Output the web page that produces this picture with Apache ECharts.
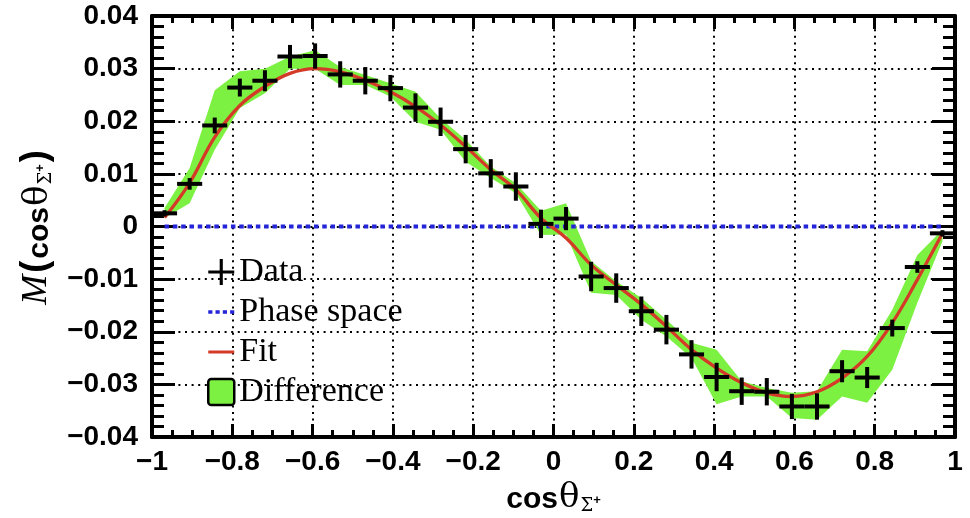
<!DOCTYPE html>
<html>
<head>
<meta charset="utf-8">
<script src="https://cdn.jsdelivr.net/npm/echarts@6/dist/echarts.min.js"></script>
<style>
  html, body { margin: 0; padding: 0; background: #fff; }
  #chart { width: 970px; height: 518px; }
</style>
</head>
<body>
<div id="chart"></div>
<script>
// Bin centres of cos(theta) (32 bins of width 0.0625)
const binCenters = [
  -0.96875, -0.90625, -0.84375, -0.78125, -0.71875, -0.65625, -0.59375, -0.53125,
  -0.46875, -0.40625, -0.34375, -0.28125, -0.21875, -0.15625, -0.09375, -0.03125,
   0.03125,  0.09375,  0.15625,  0.21875,  0.28125,  0.34375,  0.40625,  0.46875,
   0.53125,  0.59375,  0.65625,  0.71875,  0.78125,  0.84375,  0.90625,  0.96875
];
const binHalfWidth = 0.03125;

// Measured moments
const dataY = [
  0.0025, 0.0081, 0.0192, 0.0264, 0.0277, 0.0323, 0.0324, 0.0289,
  0.0277, 0.0263, 0.0226, 0.0199, 0.0147, 0.0101, 0.0076, 0.0005,
  0.0015, -0.0095, -0.0117, -0.0161, -0.0196, -0.0243, -0.0286, -0.0313,
  -0.0314, -0.0342, -0.0342, -0.0275, -0.0287, -0.0193, -0.0077, -0.0013
];
const dataErr = [
  0.0006, 0.0011, 0.0015, 0.0017, 0.0020, 0.0022, 0.0024, 0.0025,
  0.0026, 0.0025, 0.0027, 0.0027, 0.0027, 0.0027, 0.0027, 0.0027,
  0.0022, 0.0028, 0.0028, 0.0028, 0.0028, 0.0027, 0.0027, 0.0026,
  0.0026, 0.0024, 0.0025, 0.0021, 0.0020, 0.0016, 0.0011, 0.0006
];

// Fit result at the bin centres
const fitY = [
  0.0017, 0.0083, 0.0170, 0.0230, 0.0266, 0.0291, 0.0300, 0.0294,
  0.0278, 0.0256, 0.0228, 0.0193, 0.0152, 0.0108, 0.0070, 0.0016,
  -0.0022, -0.0073, -0.0111, -0.0148, -0.0190, -0.0234, -0.0269, -0.0297,
  -0.0316, -0.0323, -0.0314, -0.0288, -0.0247, -0.0183, -0.0101, -0.0013
];

// Difference band (upper / lower edge)
const bandHi = [
  0.0035, 0.0111, 0.0259, 0.0295, 0.0300, 0.0323, 0.0335, 0.0303,
  0.0288, 0.0272, 0.0256, 0.0205, 0.0165, 0.0114, 0.0082, 0.0030,
  0.0044, -0.0066, -0.0104, -0.0136, -0.0177, -0.0221, -0.0234, -0.0294,
  -0.0307, -0.0316, -0.0313, -0.0234, -0.0237, -0.0158, -0.0054, -0.0006
];
const bandLo = [
  0.0016, 0.0044, 0.0146, 0.0225, 0.0253, 0.0300, 0.0300, 0.0269,
  0.0269, 0.0247, 0.0199, 0.0184, 0.0123, 0.0092, 0.0063, -0.0016,
  -0.0015, -0.0126, -0.0130, -0.0177, -0.0209, -0.0250, -0.0338, -0.0323,
  -0.0323, -0.0364, -0.0367, -0.0323, -0.0335, -0.0272, -0.0145, -0.0028
];

// Phase-space expectation (flat at zero across the range)
const phaseX = [-0.96875, 0.96875];
const phaseY = [0, 0];

const xTicks = { min: -1, max: 1, interval: 0.2 };
const yTicks = { min: -0.04, max: 0.04, interval: 0.01 };

const GREEN = '#7df142';
const RED = '#d33b28';
const BLUE = '#2424d8';

const fmt = v => {
  const n = +(+v).toFixed(3);
  return n < 0 ? '\u2212' + String(-n) : String(n);
};

const labelStyle = {
  fontFamily: 'Liberation Sans', fontWeight: 'bold', fontSize: 28, color: '#000'
};
const gridDots = { type: [2, 4.6], width: 2, color: '#000' };

// Rich-text pieces shared by both axis titles
const titleRich = {
  m: { fontFamily: 'Liberation Serif', fontStyle: 'italic', fontSize: 36, verticalAlign: 'bottom', color: '#000' },
  b: { fontFamily: 'Liberation Sans', fontWeight: 'bold', fontSize: 36, verticalAlign: 'bottom', padding: [0, 2, 1, 2], color: '#000' },
  c: { fontFamily: 'Liberation Sans', fontWeight: 'bold', fontSize: 30, verticalAlign: 'bottom', color: '#000' },
  t: { fontFamily: 'DejaVu Serif', fontSize: 34, verticalAlign: 'bottom', padding: [0, 1, 0, 1], color: '#000' },
  s: { fontFamily: 'DejaVu Serif', fontSize: 18, verticalAlign: 'bottom', color: '#000' },
  p: { fontFamily: 'Liberation Sans', fontWeight: 'bold', fontSize: 13, verticalAlign: 'bottom', padding: [0, 0, 8, 0], color: '#000' }
};

function frameAxis(extra) {
  return Object.assign({
    type: 'value',
    axisLine: { show: true, onZero: false, lineStyle: { color: '#000', width: 4 } },
    splitLine: { show: false },
    axisLabel: { show: false }
  }, extra);
}

const chart = echarts.init(document.getElementById('chart'), null, { renderer: 'canvas' });

chart.setOption({
  animation: false,
  backgroundColor: '#fff',
  grid: { left: 152, right: 15, top: 16, bottom: 81, outerBoundsMode: 'none' },
  legend: {
    orient: 'vertical',
    left: 202, top: 250,
    itemWidth: 26, itemHeight: 27, itemGap: 6,
    selectedMode: false,
    textStyle: { fontFamily: 'Liberation Serif', fontSize: 34, color: '#000' },
    data: [
      { name: 'Data', icon: 'path://M0,44h100v12h-100z M44,0h12v100h-12z',
        itemStyle: { color: '#000', borderWidth: 0 } },
      { name: 'Phase space',
        icon: 'path://M0,0h0.3v0.3h-0.3z M99.7,99.7h0.3v0.3h-0.3z M0,43h16v14h-16z M28,43h16v14h-16z M56,43h16v14h-16z M84,43h16v14h-16z',
        itemStyle: { color: BLUE, borderWidth: 0 } },
      { name: 'Fit',
        icon: 'path://M0,0h0.3v0.3h-0.3z M99.7,99.7h0.3v0.3h-0.3z M0,44h100v12h-100z',
        itemStyle: { color: RED, borderWidth: 0 } },
      { name: 'Difference',
        icon: 'path://M12,0h76a12,12 0 0 1 12,12v76a12,12 0 0 1 -12,12h-76a12,12 0 0 1 -12,-12v-76a12,12 0 0 1 12,-12z',
        itemStyle: { color: GREEN, borderColor: '#000', borderWidth: 2.5 } }
    ]
  },
  xAxis: [
    frameAxis({
      position: 'bottom',
      min: xTicks.min, max: xTicks.max, interval: xTicks.interval,
      axisTick: { show: true, inside: true, length: 13, lineStyle: { color: '#000', width: 3 } },
      minorTick: { show: true, splitNumber: 4, length: 7, lineStyle: { color: '#000', width: 3 } },
      axisLabel: Object.assign({ show: true, margin: 11, formatter: fmt }, labelStyle),
      splitLine: { show: true, lineStyle: gridDots },
      name: '{c|cos}{t|θ}{s|Σ}{p|+}',
      nameLocation: 'middle',
      nameGap: 39,
      nameTextStyle: { color: '#000', rich: titleRich }
    }),
    frameAxis({
      position: 'top',
      min: xTicks.min, max: xTicks.max, interval: xTicks.interval,
      axisTick: { show: true, inside: true, length: 13, lineStyle: { color: '#000', width: 3 } },
      minorTick: { show: true, splitNumber: 4, length: 7, lineStyle: { color: '#000', width: 3 } }
    })
  ],
  yAxis: [
    frameAxis({
      position: 'left',
      min: yTicks.min, max: yTicks.max, interval: yTicks.interval,
      axisTick: { show: true, inside: true, length: 23, lineStyle: { color: '#000', width: 3 } },
      minorTick: { show: true, splitNumber: 5, length: 12, lineStyle: { color: '#000', width: 3 } },
      axisLabel: Object.assign({ show: true, margin: 14, formatter: fmt }, labelStyle),
      splitLine: { show: true, lineStyle: gridDots },
      name: '{m|M}{b|(}{c|cos}{t|θ}{s|Σ}{p|+}{b|)}',
      nameLocation: 'middle',
      nameRotate: 90,
      nameGap: 97,
      nameTextStyle: { color: '#000', rich: titleRich }
    }),
    frameAxis({
      position: 'right',
      min: yTicks.min, max: yTicks.max, interval: yTicks.interval,
      axisTick: { show: true, inside: true, length: 23, lineStyle: { color: '#000', width: 3 } },
      minorTick: { show: true, splitNumber: 5, length: 12, lineStyle: { color: '#000', width: 3 } }
    })
  ],
  series: [
    {
      name: 'Difference',
      type: 'custom',
      xAxisIndex: 0, yAxisIndex: 0,
      itemStyle: { color: GREEN },
      data: [[0, 0]],
      renderItem(params, api) {
        const pts = [];
        for (let i = 0; i < binCenters.length; i++) pts.push(api.coord([binCenters[i], bandHi[i]]));
        for (let i = binCenters.length - 1; i >= 0; i--) pts.push(api.coord([binCenters[i], bandLo[i]]));
        return { type: 'polygon', shape: { points: pts }, style: { fill: GREEN } };
      },
      z: 2
    },
    {
      name: 'Phase space',
      type: 'line',
      xAxisIndex: 0, yAxisIndex: 0,
      data: phaseX.map((x, i) => [x, phaseY[i]]),
      showSymbol: false, symbol: 'none',
      itemStyle: { color: BLUE },
      lineStyle: { color: BLUE, width: 4, type: [4.5, 3.8] },
      z: 3
    },
    {
      name: 'Fit',
      type: 'line',
      xAxisIndex: 0, yAxisIndex: 0,
      data: binCenters.map((x, i) => [x, fitY[i]]),
      smooth: 0.4,
      showSymbol: false, symbol: 'none',
      itemStyle: { color: RED },
      lineStyle: { color: RED, width: 3.3 },
      z: 4
    },
    {
      name: 'Data',
      type: 'custom',
      xAxisIndex: 0, yAxisIndex: 0,
      itemStyle: { color: '#000' },
      data: binCenters.map((x, i) => [x, dataY[i], dataErr[i]]),
      renderItem(params, api) {
        const x = api.value(0), y = api.value(1), e = api.value(2);
        const l = api.coord([x - binHalfWidth, y]);
        const r = api.coord([x + binHalfWidth, y]);
        const t = api.coord([x, y + e]);
        const b = api.coord([x, y - e]);
        const st = { stroke: '#000', lineWidth: 4 };
        return {
          type: 'group',
          children: [
            { type: 'line', shape: { x1: l[0], y1: l[1], x2: r[0], y2: r[1] }, style: st },
            { type: 'line', shape: { x1: t[0], y1: t[1], x2: b[0], y2: b[1] }, style: st }
          ]
        };
      },
      z: 5
    }
  ]
});
</script>
</body>
</html>
